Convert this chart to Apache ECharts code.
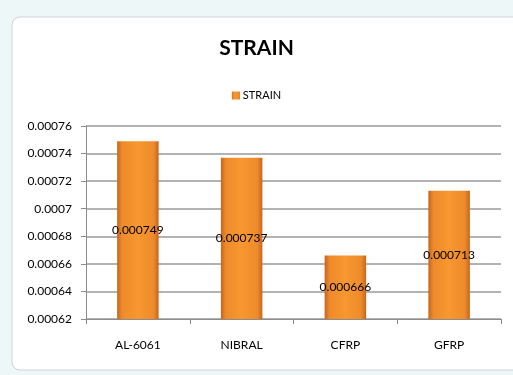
<!DOCTYPE html>
<html>
<head>
<meta charset="utf-8">
<style>
  html, body { margin: 0; padding: 0; background: #ffffff; }
  #chart { width: 513px; height: 375px; }
</style>
<script src="https://cdn.jsdelivr.net/npm/echarts@6/dist/echarts.min.js"></script>
</head>
<body>
<div id="chart"></div>
<script>
// 类目与数值
const categories = ['AL-6061', 'NIBRAL', 'CFRP', 'GFRP']
const strainValues = [0.000749, 0.000737, 0.000666, 0.000713]
const yTicks = [0.00062, 0.00064, 0.00066, 0.00068, 0.0007, 0.00072, 0.00074, 0.00076]

const font = 'Lato, "Open Sans", sans-serif'

const myBar = echarts.init(document.querySelector('#chart'))

// 柱子的渐变色：两边深，中间亮
const barColor = {
  type: 'linear',
  x: 0, y: 0, x2: 1, y2: 0,
  colorStops: [
    { offset: 0, color: '#c7651c' },
    { offset: 0.12, color: '#ee8a2c' },
    { offset: 0.5, color: '#f8982f' },
    { offset: 0.88, color: '#ee8a2c' },
    { offset: 1, color: '#c7651c' },
  ],
}

const option = {
  animation: false,
  // 外框（模仿 Excel 图表区域）
  graphic: [
    { type: 'rect', z: -10, shape: { x: 0, y: 0, width: 513, height: 375 }, style: { fill: '#eef7f8' } },
    { type: 'rect', z: -9, shape: { x: 12, y: 17, width: 520, height: 353, r: 8 }, style: { fill: '#ffffff', stroke: '#c9d3d6', lineWidth: 1 } },
  ],
  title: {
    text: 'STRAIN',
    left: 'center',
    top: 33,
    textStyle: { fontFamily: font, fontSize: 21, fontWeight: 'bold', color: '#000' },
  },
  legend: {
    data: ['STRAIN'],
    top: 85,
    left: 'center',
    itemWidth: 8,
    itemHeight: 8,
    itemGap: 4,
    icon: 'rect',
    itemStyle: { borderWidth: 0 },
    textStyle: { fontFamily: font, fontSize: 11, color: '#000', padding: [0, 0, 0, -2] },
  },
  grid: { left: 86, right: 12, top: 126, bottom: 56 },
  xAxis: {
    type: 'category',
    data: categories,
    axisLine: { lineStyle: { color: '#8c8c8c', width: 1 } },
    axisTick: { show: true, length: 5, lineStyle: { color: '#8c8c8c' } },
    axisLabel: { fontFamily: font, fontSize: 12, color: '#000', margin: 20 },
  },
  yAxis: {
    type: 'value',
    min: yTicks[0],
    max: yTicks[yTicks.length - 1],
    interval: 0.00002,
    axisLine: { show: true, lineStyle: { color: '#8c8c8c', width: 1 } },
    axisTick: { show: true, length: 5, lineStyle: { color: '#8c8c8c' } },
    splitLine: { lineStyle: { color: '#9a9a9a', width: 1.5 } },
    axisLabel: {
      fontFamily: font,
      fontSize: 12,
      color: '#000',
      margin: 14,
      formatter: v => String(parseFloat(v.toFixed(5))),
    },
  },
  series: [
    {
      name: 'STRAIN',
      type: 'bar',
      data: strainValues,
      barWidth: '40%',
      itemStyle: { color: barColor },
      label: {
        show: true,
        position: 'inside',
        fontFamily: font,
        fontSize: 12,
        color: '#000',
        formatter: p => String(p.value),
      },
    },
  ],
}
myBar.setOption(option)
</script>
</body>
</html>
